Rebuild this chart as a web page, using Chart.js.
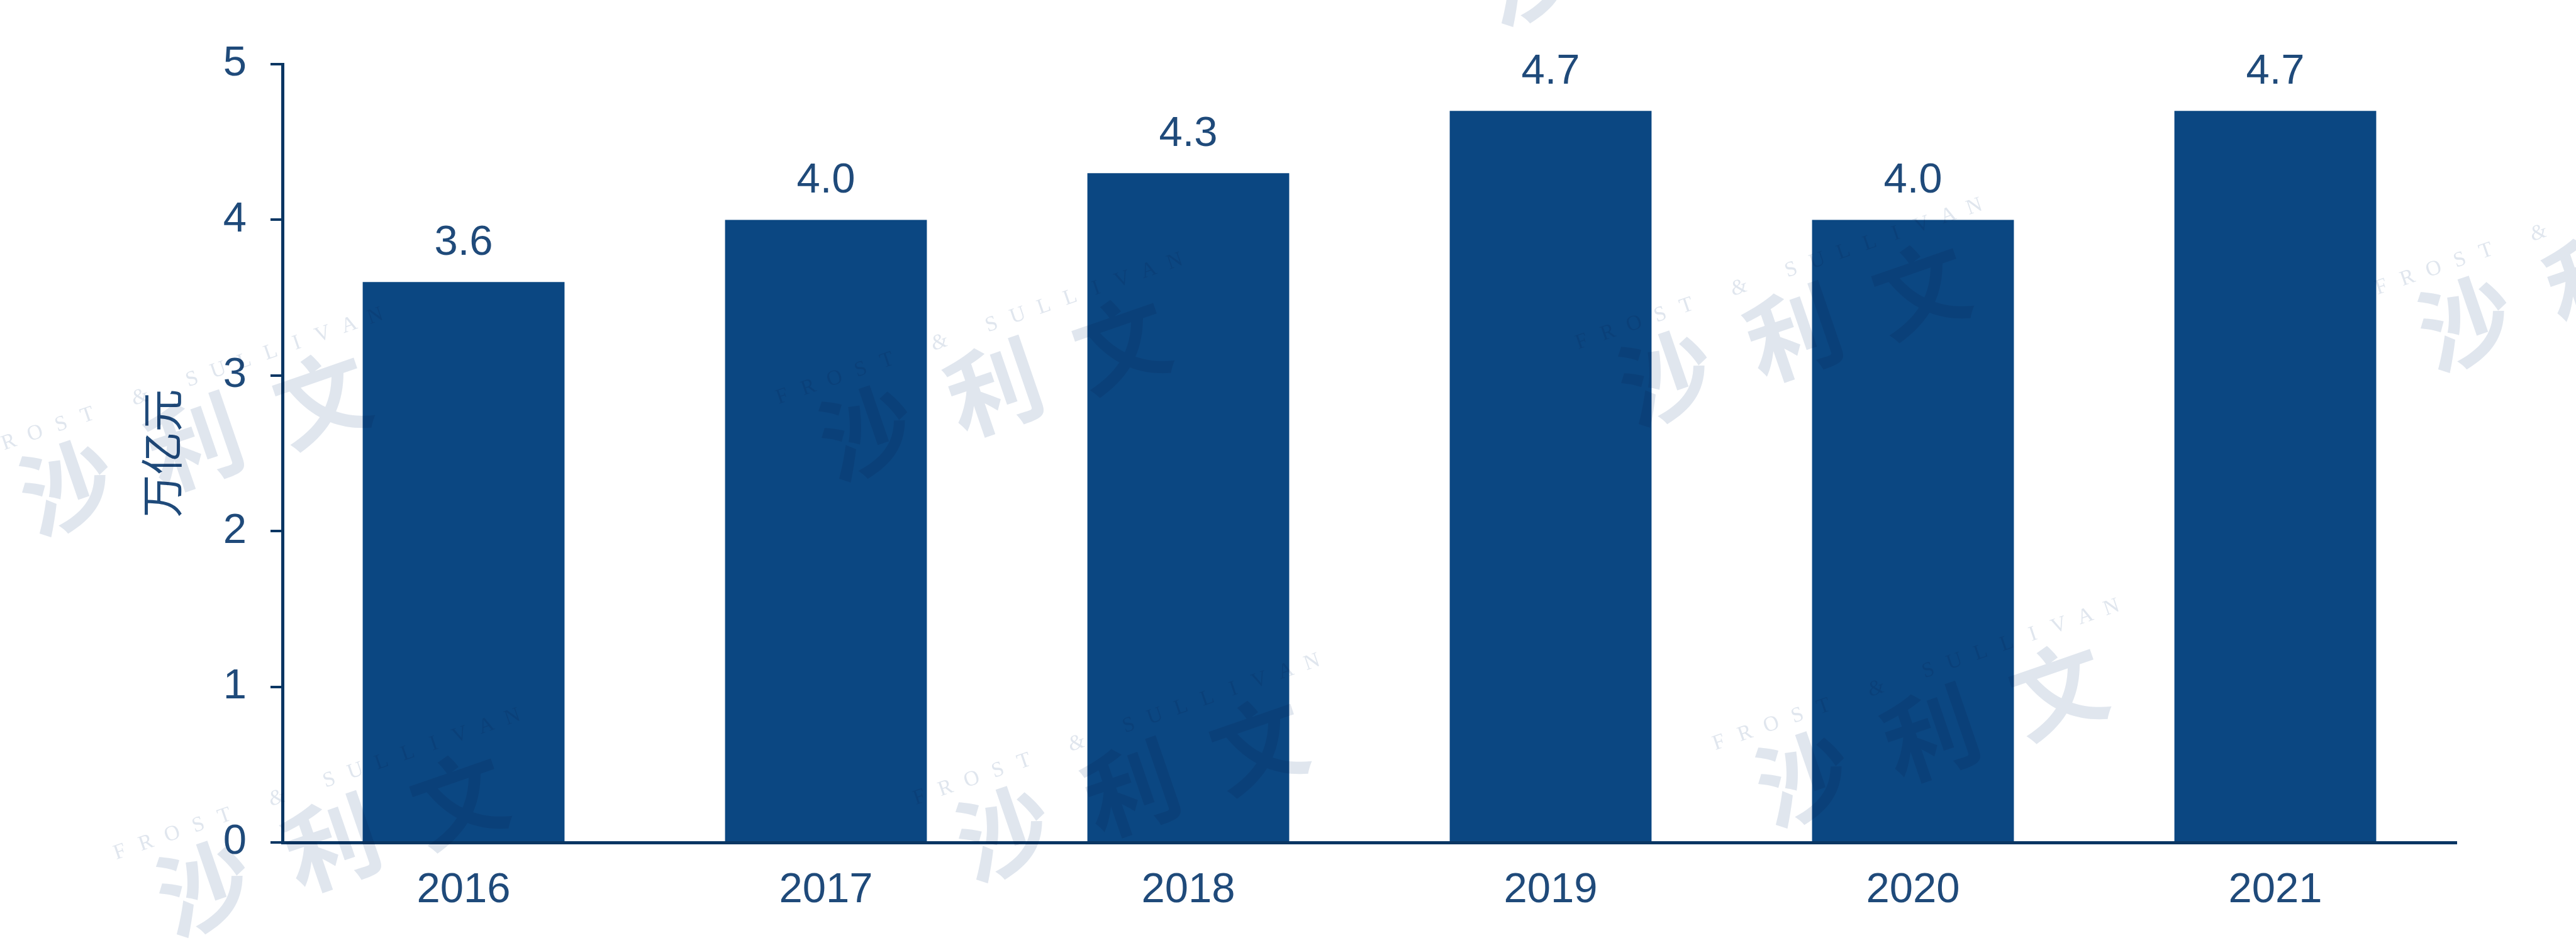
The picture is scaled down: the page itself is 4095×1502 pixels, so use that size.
<!DOCTYPE html>
<html>
<head>
<meta charset="utf-8">
<script src="https://cdn.jsdelivr.net/npm/chart.js@4.4.1/dist/chart.umd.min.js"></script>
<style>
  html, body { margin: 0; padding: 0; background: #ffffff; }
  #wrap { width: 4095px; height: 1502px; position: relative; }
  canvas { display: block; }
</style>
</head>
<body>
<div id="wrap"><canvas id="c" width="4095" height="1502"></canvas></div>
<script>
// ---- data ----
const categories = ['2016', '2017', '2018', '2019', '2020', '2021'];
const values = [3.6, 4.0, 4.3, 4.7, 4.0, 4.7];
const yTicks = [0, 1, 2, 3, 4, 5];
const yAxisTitle = '万亿元';
const watermarkChars = ['沙', '利', '文'];
const watermarkLatin = 'FROST & SULLIVAN';

// ---- style ----
const BAR = '#0B4782';
const AXIS = '#0A3663';
const TEXT = '#1F4A7A';
const NUM_FONT = '"Liberation Sans", Arial, sans-serif';
const CJK_FONT = '"Noto Sans CJK SC", sans-serif';
// watermark tiles (lattice index pairs) that appear in the picture
const WM_TILES = [[0, 0], [1, 0], [2, 0], [3, 0], [0, 1], [1, 1], [2, 1], [2, -1]];

const valueLabels = {
  id: 'valueLabels',
  afterDatasetsDraw(chart) {
    const ctx = chart.ctx;
    const meta = chart.getDatasetMeta(0);
    ctx.save();
    ctx.fillStyle = TEXT;
    ctx.font = '67px ' + NUM_FONT;
    ctx.textAlign = 'center';
    ctx.textBaseline = 'alphabetic';
    meta.data.forEach((bar, i) => {
      ctx.fillText(values[i].toFixed(1), bar.x, bar.y - 43);
    });
    ctx.restore();
  }
};

const watermark = {
  id: 'watermark',
  afterDraw(chart) {
    const ctx = chart.ctx;
    const ang = -19 * Math.PI / 180;
    ctx.save();
    ctx.globalCompositeOperation = 'multiply';
    ctx.fillStyle = '#E0E6EE';
    WM_TILES.forEach(([i, j]) => {
      const cx = 107 + 1271 * i + 218 * j;
      const cy = 773 - 87 * i + 637 * j;
      ctx.save();
      ctx.translate(cx, cy);
      ctx.rotate(ang);
      ctx.font = 'bold 150px ' + CJK_FONT;
      ctx.textAlign = 'center';
      ctx.textBaseline = 'middle';
      watermarkChars.forEach((ch, k) => ctx.fillText(ch, k * 214, 0));
      for (let k = 0; k < watermarkLatin.length; k++) {
        const ch = watermarkLatin[k];
        if (ch === ' ') continue;
        ctx.font = (ch === '&' ? 'italic ' : '') + '34px "Liberation Serif", serif';
        ctx.fillText(ch, -109 + 44 * k, -96);
      }
      ctx.restore();
    });
    ctx.restore();
  }
};

new Chart(document.getElementById('c'), {
  type: 'bar',
  data: {
    labels: categories,
    datasets: [{
      data: values,
      backgroundColor: BAR,
      borderWidth: 0,
      barPercentage: 0.557,
      categoryPercentage: 1.0
    }]
  },
  options: {
    responsive: false,
    animation: false,
    devicePixelRatio: 1,
    layout: { padding: { top: 102, right: 190, bottom: 0, left: 0 } },
    plugins: { legend: { display: false }, tooltip: { enabled: false } },
    scales: {
      x: {
        afterFit(scale) { scale.height = 163; },
        grid: { display: false, drawTicks: false },
        border: { display: true, color: AXIS, width: 5 },
        ticks: { color: TEXT, font: { family: NUM_FONT, size: 67 }, padding: 36, maxRotation: 0 }
      },
      y: {
        min: 0,
        max: 5,
        afterFit(scale) { scale.width = 449; },
        afterBuildTicks(scale) { scale.ticks = yTicks.map(v => ({ value: v })); },
        grid: { display: true, drawOnChartArea: false, drawTicks: true, tickLength: 19, color: AXIS, lineWidth: 4 },
        border: { display: true, color: AXIS, width: 5 },
        ticks: { color: TEXT, font: { family: NUM_FONT, size: 67 }, padding: 38 },
        title: {
          display: true,
          text: yAxisTitle,
          color: TEXT,
          font: { family: CJK_FONT, size: 68 },
          padding: { top: 216, bottom: 0 }
        }
      }
    }
  },
  plugins: [valueLabels, watermark]
});
</script>
</body>
</html>
